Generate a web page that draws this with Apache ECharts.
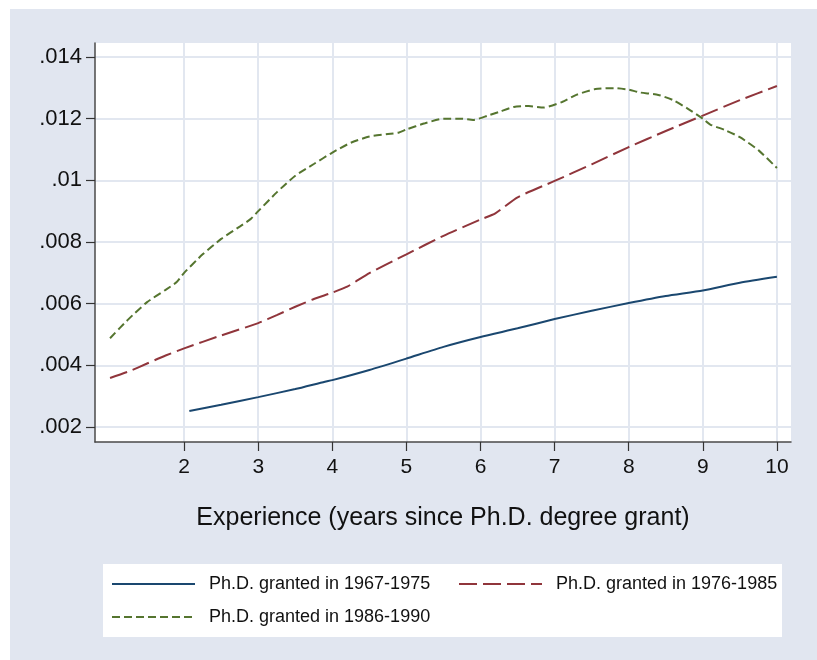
<!DOCTYPE html>
<html>
<head>
<meta charset="utf-8">
<script src="https://cdn.jsdelivr.net/npm/echarts@6/dist/echarts.min.js"></script>
<style>
  html, body { margin: 0; padding: 0; background: #fff; }
  #main { width: 817px; height: 660px; }
</style>
</head>
<body>
<div id="main"></div>
<script>
var chart = echarts.init(document.getElementById('main'));

// experience (years) and predicted values
var x1967 = [2.07, 2.5, 3.0, 3.5, 3.9, 4.0, 4.5, 5.0, 5.5, 6.0, 6.5, 7.0, 7.5, 8.0, 8.5, 9.0, 9.5, 10];
var y1967 = [0.00252, 0.00272, 0.00297, 0.00323, 0.00347, 0.00352, 0.00385, 0.00422, 0.00460, 0.00492,
             0.00520, 0.00550, 0.00577, 0.00602, 0.00625, 0.00643, 0.00668, 0.00687];

var x1976 = [1.0, 1.25, 1.5, 1.75, 2.0, 2.5, 3.0, 3.25, 3.5, 3.75, 4.0, 4.2, 4.5, 5.0, 5.5, 6.0, 6.2,
             6.5, 7.0, 7.5, 8.0, 8.5, 9.0, 9.5, 10];
var y1976 = [0.00359, 0.00380, 0.00406, 0.00432, 0.00455, 0.00497, 0.00537, 0.00563, 0.00590, 0.00615,
             0.00636, 0.00655, 0.00699, 0.00760, 0.00820, 0.00873, 0.00893, 0.00945, 0.00998, 0.01052,
             0.01108, 0.01160, 0.01210, 0.01260, 0.01306];

var x1986 = [1.0, 1.25, 1.5, 1.75, 1.9, 2.0, 2.25, 2.5, 2.75, 2.9, 3.0, 3.25, 3.5, 3.75, 4.0, 4.25, 4.5,
             4.75, 4.9, 5.0, 5.25, 5.5, 5.75, 5.9, 6.1, 6.25, 6.45, 6.65, 6.85, 7.1, 7.3, 7.55, 7.8,
             8.0, 8.15, 8.4, 8.6, 8.8, 9.0, 9.1, 9.3, 9.5, 9.75, 10];
var y1986 = [0.00488, 0.00550, 0.00605, 0.00645, 0.00670, 0.00700, 0.00760, 0.00810, 0.00850, 0.00875,
             0.00900, 0.00961, 0.01015, 0.01053, 0.01090, 0.01122, 0.01142, 0.01150, 0.01155, 0.01165,
             0.01185, 0.01200, 0.01200, 0.01196, 0.01210, 0.01222, 0.01238, 0.01241, 0.01236, 0.01254,
             0.01278, 0.01296, 0.01299, 0.01294, 0.01285, 0.01277, 0.01260, 0.01232, 0.01200, 0.01181,
             0.01163, 0.01140, 0.01098, 0.01040];

var xTicks = [2, 3, 4, 5, 6, 7, 8, 9, 10];
var yTicks = [0.002, 0.004, 0.006, 0.008, 0.010, 0.012, 0.014];
var names = ['Ph.D. granted in 1967-1975', 'Ph.D. granted in 1976-1985', 'Ph.D. granted in 1986-1990'];

function pairs(xs, ys) {
    return xs.map(function (x, i) { return [x, ys[i]]; });
}

var font = 'Liberation Sans, Arial, sans-serif';
var gridColor = '#e2e7f0';
var legendText = { fontFamily: font, fontSize: 18, color: '#111', padding: [0, 0, 0, 9] };

function legendAt(name, left, top) {
    return {
        data: [name], left: left, top: top, padding: 0,
        itemWidth: 83, itemHeight: 14, selectedMode: false,
        itemStyle: { opacity: 0 },   // hide the marker, keep the line
        textStyle: legendText
    };
}

var option = {
    backgroundColor: '#ffffff',
    animation: false,
    graphic: [
        { type: 'rect', left: 10, top: 9, z: -10,
          shape: { width: 807, height: 651 }, style: { fill: '#e1e6f0' } },
        { type: 'rect', left: 103, top: 564, z: -5,
          shape: { width: 679, height: 73 }, style: { fill: '#ffffff' } }
    ],
    grid: {
        left: 95, right: 26, top: 43, bottom: 218,
        show: true, backgroundColor: '#ffffff', borderWidth: 0
    },
    xAxis: {
        type: 'value',
        min: 0.797, max: 10.19,
        name: 'Experience (years since Ph.D. degree grant)',
        nameLocation: 'middle',
        nameGap: 64,
        nameTextStyle: { fontFamily: font, fontSize: 25, color: '#111' },
        axisLine: { show: true, onZero: false, lineStyle: { color: '#4a4a4a', width: 1.5 } },
        axisTick: { show: true, length: 9, customValues: xTicks, lineStyle: { color: '#333', width: 1.2 } },
        axisLabel: { customValues: xTicks, margin: 15, fontFamily: font, fontSize: 21, color: '#111' },
        splitLine: { show: true, lineStyle: { color: gridColor, width: 2 } }
    },
    yAxis: {
        type: 'value',
        min: 0.001514, max: 0.014454,
        axisLine: { show: true, onZero: false, lineStyle: { color: '#4a4a4a', width: 1.5 } },
        axisTick: { show: true, length: 9, customValues: yTicks, lineStyle: { color: '#333', width: 1.2 } },
        axisLabel: {
            customValues: yTicks, margin: 13, fontFamily: font, fontSize: 22, color: '#111',
            formatter: function (v) {
                return String(parseFloat(v.toFixed(3))).replace(/^0/, '');
            }
        },
        splitLine: { show: true, lineStyle: { color: gridColor, width: 2 } }
    },
    legend: [
        legendAt(names[0], 111, 575),
        legendAt(names[1], 458, 575),
        legendAt(names[2], 111, 608)
    ],
    series: [
        {
            name: names[0], type: 'line', data: pairs(x1967, y1967),
            symbol: 'none', smooth: 0.2,
            lineStyle: { color: '#1a476f', width: 2, type: 'solid' },
            itemStyle: { color: '#1a476f' }
        },
        {
            name: names[1], type: 'line', data: pairs(x1976, y1976),
            symbol: 'none', smooth: 0.2,
            lineStyle: { color: '#90353b', width: 2, type: [18, 6] },
            itemStyle: { color: '#90353b' }
        },
        {
            name: names[2], type: 'line', data: pairs(x1986, y1986),
            symbol: 'none', smooth: 0.2,
            lineStyle: { color: '#55752f', width: 2, type: [8, 4] },
            itemStyle: { color: '#55752f' }
        }
    ]
};
chart.setOption(option);
</script>
</body>
</html>
